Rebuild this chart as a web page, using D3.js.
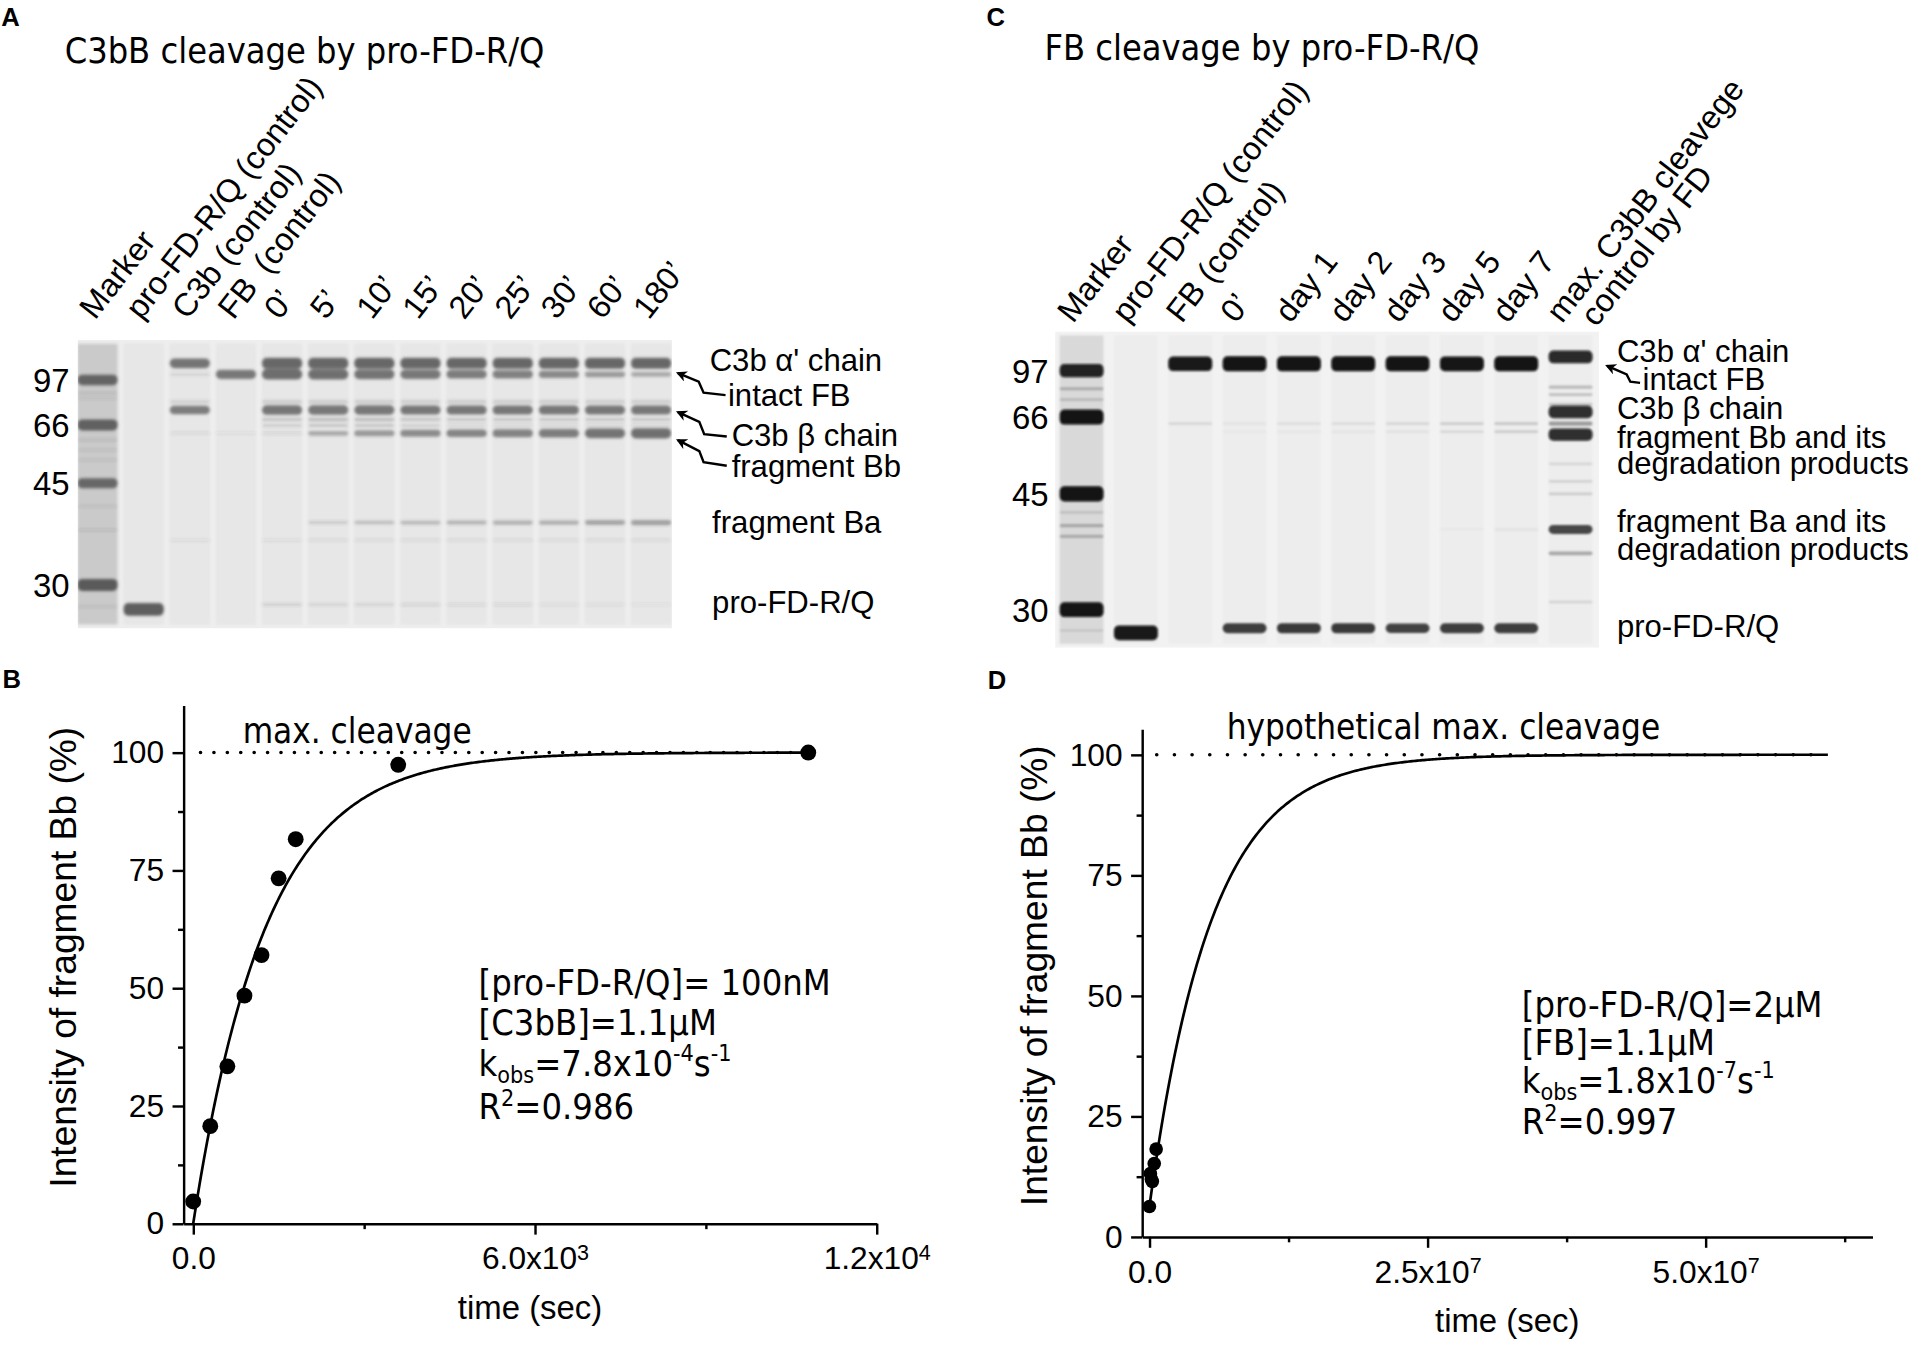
<!DOCTYPE html>
<html>
<head>
<meta charset="utf-8">
<script src="https://cdn.jsdelivr.net/npm/d3@7"></script>
<style>
  html, body { margin: 0; padding: 0; background: #fff; }
  svg { display: block; }
</style>
</head>
<body>
<div id="main"></div>
<script>
// ---------- data ----------

// gel A : C3bB cleavage by pro-FD-R/Q
const gelALanes = ["Marker", "pro-FD-R/Q (control)", "C3b (control)", "FB\u2002(control)",
  "0’", "5’", "10’", "15’", "20’", "25’", "30’", "60’", "180’"];
const gelAMarkers = [97, 66, 45, 30];
// [lane, apparent kDa, band strength 0..1]
const gelAControlBands = [
  ["Marker", 97, 0.72], ["Marker", 66, 0.74], ["Marker", 45, 0.7], ["Marker", 30, 0.78],
  ["Marker", 87.8, 0.12], ["Marker", 84.4, 0.1], ["Marker", 60.6, 0.12],
  ["Marker", 57, 0.1], ["Marker", 53.4, 0.1], ["Marker", 41.6, 0.1], ["Marker", 38.1, 0.12],
  ["Marker", 26.8, 0.1],
  ["pro-FD-R/Q (control)", 26.4, 0.8],
  ["C3b (control)", 108.5, 0.68], ["C3b (control)", 100.9, 0.14], ["C3b (control)", 82, 0.16],
  ["C3b (control)", 76.3, 0.62], ["C3b (control)", 63, 0.1], ["C3b (control)", 36.6, 0.08],
  ["FB\u2002(control)", 100.9, 0.66], ["FB\u2002(control)", 63, 0.07]
];
const gelATimeLanes = ["0’", "5’", "10’", "15’", "20’", "25’", "30’", "60’", "180’"];
//                    α'     FB    82    β    70    66    Bb    Ba    37    FD
const gelATimeKDa = [108.5, 100.9, 82, 76.3, 69.8, 65.8, 63, 39.2, 36.6, 27.1];
const gelATimeValues = [
  [0.74, 0.71, 0.2, 0.67, 0.22, 0.16, 0.12, 0.0, 0.08, 0.16],
  [0.74, 0.70, 0.2, 0.66, 0.25, 0.2, 0.38, 0.18, 0.1, 0.14],
  [0.74, 0.68, 0.2, 0.66, 0.25, 0.2, 0.47, 0.26, 0.1, 0.14],
  [0.74, 0.66, 0.2, 0.65, 0.22, 0.15, 0.54, 0.3, 0.1, 0.12],
  [0.74, 0.62, 0.2, 0.65, 0.2, 0.12, 0.57, 0.32, 0.1, 0.1],
  [0.74, 0.60, 0.2, 0.65, 0.2, 0.12, 0.59, 0.33, 0.1, 0.1],
  [0.74, 0.55, 0.2, 0.65, 0.2, 0.12, 0.62, 0.34, 0.1, 0.08],
  [0.74, 0.45, 0.2, 0.65, 0.2, 0.12, 0.68, 0.4, 0.1, 0.08],
  [0.74, 0.38, 0.2, 0.65, 0.2, 0.12, 0.70, 0.42, 0.1, 0.07]
];

// gel C : FB cleavage by pro-FD-R/Q
const gelCLanes = ["Marker", "pro-FD-R/Q (control)", "FB (control)", "0’", "day 1", "day 2",
  "day 3", "day 5", "day 7", "max. C3bB cleavege\ncontrol by FD"];
const gelCMarkers = [97, 66, 45, 30];
const gelCControlBands = [
  ["Marker", 97, 0.9], ["Marker", 66, 0.97], ["Marker", 45, 0.97], ["Marker", 30, 0.96],
  ["Marker", 84.9, 0.22], ["Marker", 77.7, 0.16], ["Marker", 42.6, 0.12], ["Marker", 40.9, 0.24],
  ["Marker", 39.5, 0.22], ["Marker", 27.3, 0.1],
  ["pro-FD-R/Q (control)", 27, 0.95],
  ["FB (control)", 101.6, 0.95], ["FB (control)", 64.2, 0.1],
  ["max. C3bB cleavege\ncontrol by FD", 106.2, 0.88], ["max. C3bB cleavege\ncontrol by FD", 86, 0.22],
  ["max. C3bB cleavege\ncontrol by FD", 81, 0.2], ["max. C3bB cleavege\ncontrol by FD", 74.4, 0.18],
  ["max. C3bB cleavege\ncontrol by FD", 69.4, 0.86], ["max. C3bB cleavege\ncontrol by FD", 64.2, 0.35],
  ["max. C3bB cleavege\ncontrol by FD", 61.2, 0.86], ["max. C3bB cleavege\ncontrol by FD", 53.2, 0.1],
  ["max. C3bB cleavege\ncontrol by FD", 48.4, 0.12], ["max. C3bB cleavege\ncontrol by FD", 45, 0.15],
  ["max. C3bB cleavege\ncontrol by FD", 40.4, 0.7], ["max. C3bB cleavege\ncontrol by FD", 37.3, 0.3],
  ["max. C3bB cleavege\ncontrol by FD", 31, 0.12]
];
const gelCTimeLanes = ["0’", "day 1", "day 2", "day 3", "day 5", "day 7"];
//                   FB     65    62    Ba    FD
const gelCTimeKDa = [101.6, 64.2, 62, 40.4, 27.6];
const gelCTimeValues = [
  [0.97, 0.06, 0.03, 0.0, 0.74],
  [0.97, 0.07, 0.04, 0.0, 0.76],
  [0.97, 0.08, 0.05, 0.0, 0.76],
  [0.97, 0.10, 0.06, 0.0, 0.72],
  [0.96, 0.14, 0.10, 0.03, 0.74],
  [0.97, 0.17, 0.14, 0.06, 0.74]
];

// plot B : C3bB cleavage kinetics
const timeB = [0, 300, 600, 900, 1200, 1500, 1800, 3600, 10800];   // sec
const bbB = [4.7, 20.7, 33.4, 48.4, 57.0, 73.3, 81.6, 97.4, 100.0];  // %
const kObsB = 7.8e-4;
const annotB = ["[pro-FD-R/Q]= 100nM", "[C3bB]=1.1µM", "7.8x10", "0.986"];

// plot D : FB cleavage kinetics
const timeD = [0, 86400, 172800, 259200, 432000, 604800];            // sec (0', day 1..7)
const bbD = [6.3, 13.1, 12.0, 11.5, 15.2, 18.2];                     // %
const kObsD = 1.8e-7;
const fitStartD = 6.3;
const fitEndD = 6.1e7;
const annotD = ["[pro-FD-R/Q]=2µM", "[FB]=1.1µM", "1.8x10", "0.997"];

const yTicks = [0, 25, 50, 75, 100];
const yMinor = [12.5, 37.5, 62.5, 87.5];

// ---------- drawing ----------
const SANS = "'Liberation Sans', Arial, Helvetica, sans-serif";
const COND = "'DejaVu Sans Condensed', 'DejaVu Sans', sans-serif";
const W = 1568, H = 1103;

const svg = d3.select("#main").append("svg")
  .attr("width", 1912).attr("height", 1345)
  .attr("viewBox", [0, 0, W, H]);

const defs = svg.append("defs");
defs.append("marker").attr("id", "arrow")
  .attr("viewBox", "0 0 10 10").attr("refX", 8).attr("refY", 5)
  .attr("markerWidth", 4.5).attr("markerHeight", 4.5)
  .attr("orient", "auto-start-reverse")
  .append("path").attr("d", "M0,0L10,5L0,10L3,5z").attr("fill", "#000");

function addText(g, str, x, y, size, family, extra) {
  const t = g.append("text").attr("x", x).attr("y", y)
    .attr("font-size", size).attr("font-family", family).attr("fill", "#000").text(str);
  if (family === COND) t.attr("font-stretch", "condensed");
  if (extra) extra(t);
  return t;
}

function drawGel(o) {
  const lane = d3.scalePoint(o.lanes, o.laneRange);
  const y = d3.scaleLinear(o.markers, o.markerY);
  const h = d3.scaleLinear([0, 1], [2, o.maxH]);
  const g = svg.append("g");

  defs.append("filter").attr("id", o.id + "blur")
    .append("feGaussianBlur").attr("stdDeviation", o.blur);
  defs.append("clipPath").attr("id", o.id + "clip")
    .append("rect").attr("x", o.x0).attr("y", o.y0)
    .attr("width", o.x1 - o.x0).attr("height", o.y1 - o.y0);

  g.append("rect").attr("x", o.x0).attr("y", o.y0)
    .attr("width", o.x1 - o.x0).attr("height", o.y1 - o.y0).attr("fill", o.bg);

  const inner = g.append("g").attr("clip-path", `url(#${o.id}clip)`)
    .append("g").attr("filter", `url(#${o.id}blur)`);

  // faint lane smears
  inner.selectAll("rect.smear").data(o.lanes).join("rect")
    .attr("x", d => lane(d) - o.bw / 2).attr("width", o.bw)
    .attr("y", o.y0 + 3).attr("height", o.y1 - o.y0 - 6)
    .attr("fill", o.ink)
    .attr("fill-opacity", (d, i) => i === 0 ? o.markerSmear : o.laneSmear);

  inner.selectAll("rect.band").data(o.bands.filter(d => d[2] > 0)).join("rect")
    .attr("x", d => lane(d[0]) - o.bw / 2).attr("width", o.bw)
    .attr("y", d => y(d[1]) - h(d[2] * d[2]) / 2)
    .attr("height", d => h(d[2] * d[2]))
    .attr("rx", d => Math.min(4, h(d[2] * d[2]) / 2))
    .attr("fill", o.ink).attr("fill-opacity", d => d[2]);

  // molecular weight labels
  g.selectAll("text.mw").data(o.markers).join("text")
    .attr("x", o.mwX).attr("y", d => y(d)).attr("dy", "0.36em")
    .attr("text-anchor", "end").attr("font-family", SANS).attr("font-size", 27)
    .text(d => d);

  // rotated lane labels
  o.lanes.forEach(name => {
    name.split("\n").forEach((line, j) => {
      g.append("text")
        .attr("transform", `translate(${lane(name) + o.labelDx + j * 28},${o.labelY + j * 3}) rotate(-52)`)
        .attr("font-family", SANS).attr("font-size", 26.5)
        .style("white-space", "pre").text(line);
    });
  });
  return { lane, y, g };
}

// --- gel A
const bandsA = gelAControlBands.concat(
  gelATimeLanes.flatMap((ln, i) => gelATimeKDa.map((k, j) => [ln, k, gelATimeValues[i][j]])));
drawGel({
  id: "A", lanes: gelALanes, bands: bandsA, markers: gelAMarkers,
  markerY: [311.6, 348.5, 396.3, 479.7], laneRange: [80, 534], bw: 33, maxH: 15,
  x0: 63.8, x1: 551, y0: 278.8, y1: 515.2, bg: "#eeeeee", ink: "#3c3c3c", blur: 1.4,
  markerSmear: 0.2, laneSmear: 0.03, mwX: 57, labelDx: -2, labelY: 263
});

// --- gel C
const bandsC = gelCControlBands.concat(
  gelCTimeLanes.flatMap((ln, i) => gelCTimeKDa.map((k, j) => [ln, k, gelCTimeValues[i][j]])));
drawGel({
  id: "C", lanes: gelCLanes, bands: bandsC, markers: gelCMarkers,
  markerY: [304, 342, 405, 500], laneRange: [887, 1288], bw: 36, maxH: 13,
  x0: 865.4, x1: 1311.2, y0: 272, y1: 531, bg: "#f2f2f2", ink: "#080808", blur: 1.0,
  markerSmear: 0.1, laneSmear: 0.018, mwX: 860, labelDx: -7, labelY: 266
});

// right-hand band annotations
const ann = svg.append("g");
[["C3b α' chain", 582, 304], ["intact FB", 597, 333], ["C3b β chain", 600, 366],
 ["fragment Bb", 600, 391], ["fragment Ba", 584, 437], ["pro-FD-R/Q", 584, 503],
 ["C3b α' chain", 1326, 297], ["intact FB", 1347, 320], ["C3b β chain", 1326, 344],
 ["fragment Bb and its", 1326, 367], ["degradation products", 1326, 389],
 ["fragment Ba and its", 1326, 436], ["degradation products", 1326, 459],
 ["pro-FD-R/Q", 1326, 522]]
  .forEach(([s, x, y]) => addText(ann, s, x, y, 25.5, SANS));

const zig = d3.line();
[[[556, 306], [573, 313], [577, 322], [595, 324]],
 [[556, 338], [573.5, 346], [577.5, 356], [596, 358]],
 [[556, 361], [573.5, 370], [577, 379], [596, 382]],
 [[1318, 300], [1334, 307], [1337, 313], [1345, 314]]]
  .forEach(p => ann.append("path").attr("d", zig(p)).attr("fill", "none")
    .attr("stroke", "#000").attr("stroke-width", 2).attr("marker-start", "url(#arrow)"));

// panel letters and titles
[["A", 1, 21], ["C", 809, 21], ["B", 2, 564], ["D", 810, 565]]
  .forEach(([s, x, y]) => addText(svg, s, x, y, 21, SANS, t => t.attr("font-weight", "bold")));
addText(svg, "C3bB cleavage by pro-FD-R/Q", 53, 52, 29.4, COND);
addText(svg, "FB cleavage by pro-FD-R/Q", 856.5, 49, 29.4, COND);

// ---------- kinetics plots ----------
function sciLabels(sel) {
  sel.each(function (v) {
    const t = d3.select(this).text("");
    if (v === 0) { t.text("0.0"); return; }
    const e = Math.floor(Math.log10(v) + 1e-9);
    t.append("tspan").text(`${(v / 10 ** e).toFixed(1)}x10`);
    t.append("tspan").attr("dy", "-0.45em").attr("font-size", "0.68em").text(e);
  });
}

function drawPlot(o) {
  const x = d3.scaleLinear(o.xDomain, o.xRange);
  const y = d3.scaleLinear(o.yDomain, o.yRange);
  const g = svg.append("g");
  const y0 = o.yRange[0], x0 = o.xRange[0];

  const style = a => {
    a.attr("font-family", SANS).attr("font-size", 26);
    a.select(".domain").attr("stroke-width", 2);
    a.selectAll(".tick line").attr("stroke-width", 2);
  };
  g.append("g").attr("transform", `translate(0,${y0})`)
    .call(d3.axisBottom(x).tickValues(o.xMinor).tickSize(4.5).tickFormat(""))
    .call(style).call(a => a.select(".domain").remove());
  g.append("g").attr("transform", `translate(${x0},0)`)
    .call(d3.axisLeft(y).tickValues(yMinor).tickSize(4.5).tickFormat(""))
    .call(style).call(a => a.select(".domain").remove());
  g.append("g").attr("transform", `translate(0,${y0})`)
    .call(d3.axisBottom(x).tickValues(o.xMajor).tickSize(9).tickSizeOuter(0).tickPadding(10))
    .call(style).call(a => a.selectAll(".tick text").call(sciLabels));
  g.append("g").attr("transform", `translate(${x0},0)`)
    .call(d3.axisLeft(y).tickValues(yTicks).tickSize(9).tickSizeOuter(0).tickPadding(7))
    .call(style);

  // axis titles
  addText(g, "time (sec)", (o.xRange[0] + o.xRange[1]) / 2, y0 + 78, 27, SANS,
    t => t.attr("text-anchor", "middle"));
  g.append("text").attr("transform", `translate(${o.yTitleX},${(o.yRange[0] + o.yRange[1]) / 2 - 6}) rotate(-90)`)
    .attr("text-anchor", "middle").attr("font-family", SANS).attr("font-size", 30.5)
    .text("Intensity of fragment Bb (%)");

  // dotted maximum line
  g.append("path")
    .attr("d", d3.line()([[x(0) + o.dotInset, y(100)], [x(o.fitEnd), y(100)]]))
    .attr("stroke", "#000").attr("stroke-width", 3).attr("stroke-linecap", "round")
    .attr("stroke-dasharray", `0,${o.dotGap}`).attr("fill", "none");

  // fitted first-order curve
  const ts = d3.range(0, 401).map(i => o.fitEnd * i / 400);
  g.append("path")
    .attr("d", d3.line().x(t => x(t)).y(t => y(o.fit(t)))(ts))
    .attr("fill", "none").attr("stroke", "#000").attr("stroke-width", 2.2);

  g.selectAll("circle").data(o.t).join("circle")
    .attr("cx", d => x(d)).attr("cy", (d, i) => y(o.v[i])).attr("r", o.r).attr("fill", "#000");

  // annotations
  addText(g, o.maxLabel, o.maxLabelX, o.maxLabelY, 28.5, COND);
  const ax = o.annX, ay = o.annY, sp = o.annGap, fs = 29.5, small = 19;
  addText(g, o.ann[0], ax, ay, fs, COND);
  addText(g, o.ann[1], ax, ay + sp, fs, COND);
  addText(g, "k", ax, ay + 2 * sp, fs, COND, t => {
    t.append("tspan").attr("font-size", small).attr("dy", 6).text("obs");
    t.append("tspan").attr("dy", -6).text("=" + o.ann[2]);
    t.append("tspan").attr("font-size", small).attr("dy", -12).text(o.kExp);
    t.append("tspan").attr("dy", 12).text("s");
    t.append("tspan").attr("font-size", small).attr("dy", -12).text("-1");
  });
  addText(g, "R", ax, ay + 3 * sp + 3, fs, COND, t => {
    t.append("tspan").attr("font-size", small).attr("dy", -11).text("2");
    t.append("tspan").attr("dy", 11).text("=" + o.ann[3]);
  });
}

drawPlot({
  xDomain: [-170, 12000], xRange: [150.5, 718.9],
  yDomain: [0, 110], yRange: [1003.5, 578.5],
  xMajor: [0, 6000, 12000], xMinor: [3000, 9000],
  t: timeB, v: bbB, r: 6.5,
  fit: t => 100 * (1 - Math.exp(-kObsB * t)), fitEnd: timeB[timeB.length - 1],
  dotInset: 6, dotGap: 11,
  yTitleX: 62, maxLabel: "max. cleavage", maxLabelX: 199, maxLabelY: 609,
  ann: annotB, kExp: "-4", annX: 392.5, annY: 816, annGap: 33
});

drawPlot({
  xDomain: [-6.6e5, 6.5e7], xRange: [936.6, 1535.5],
  yDomain: [0, 105.3], yRange: [1014.3, 598],
  xMajor: [0, 2.5e7, 5e7], xMinor: [1.25e7, 3.75e7, 6.25e7],
  t: timeD, v: bbD, r: 5.6,
  fit: t => fitStartD + (100 - fitStartD) * (1 - Math.exp(-kObsD * t)), fitEnd: fitEndD,
  dotInset: 6, dotGap: 14.5,
  yTitleX: 859, maxLabel: "hypothetical max. cleavage", maxLabelX: 1006, maxLabelY: 606,
  ann: annotD, kExp: "-7", annX: 1248, annY: 834, annGap: 31
});
</script>
</body>
</html>
